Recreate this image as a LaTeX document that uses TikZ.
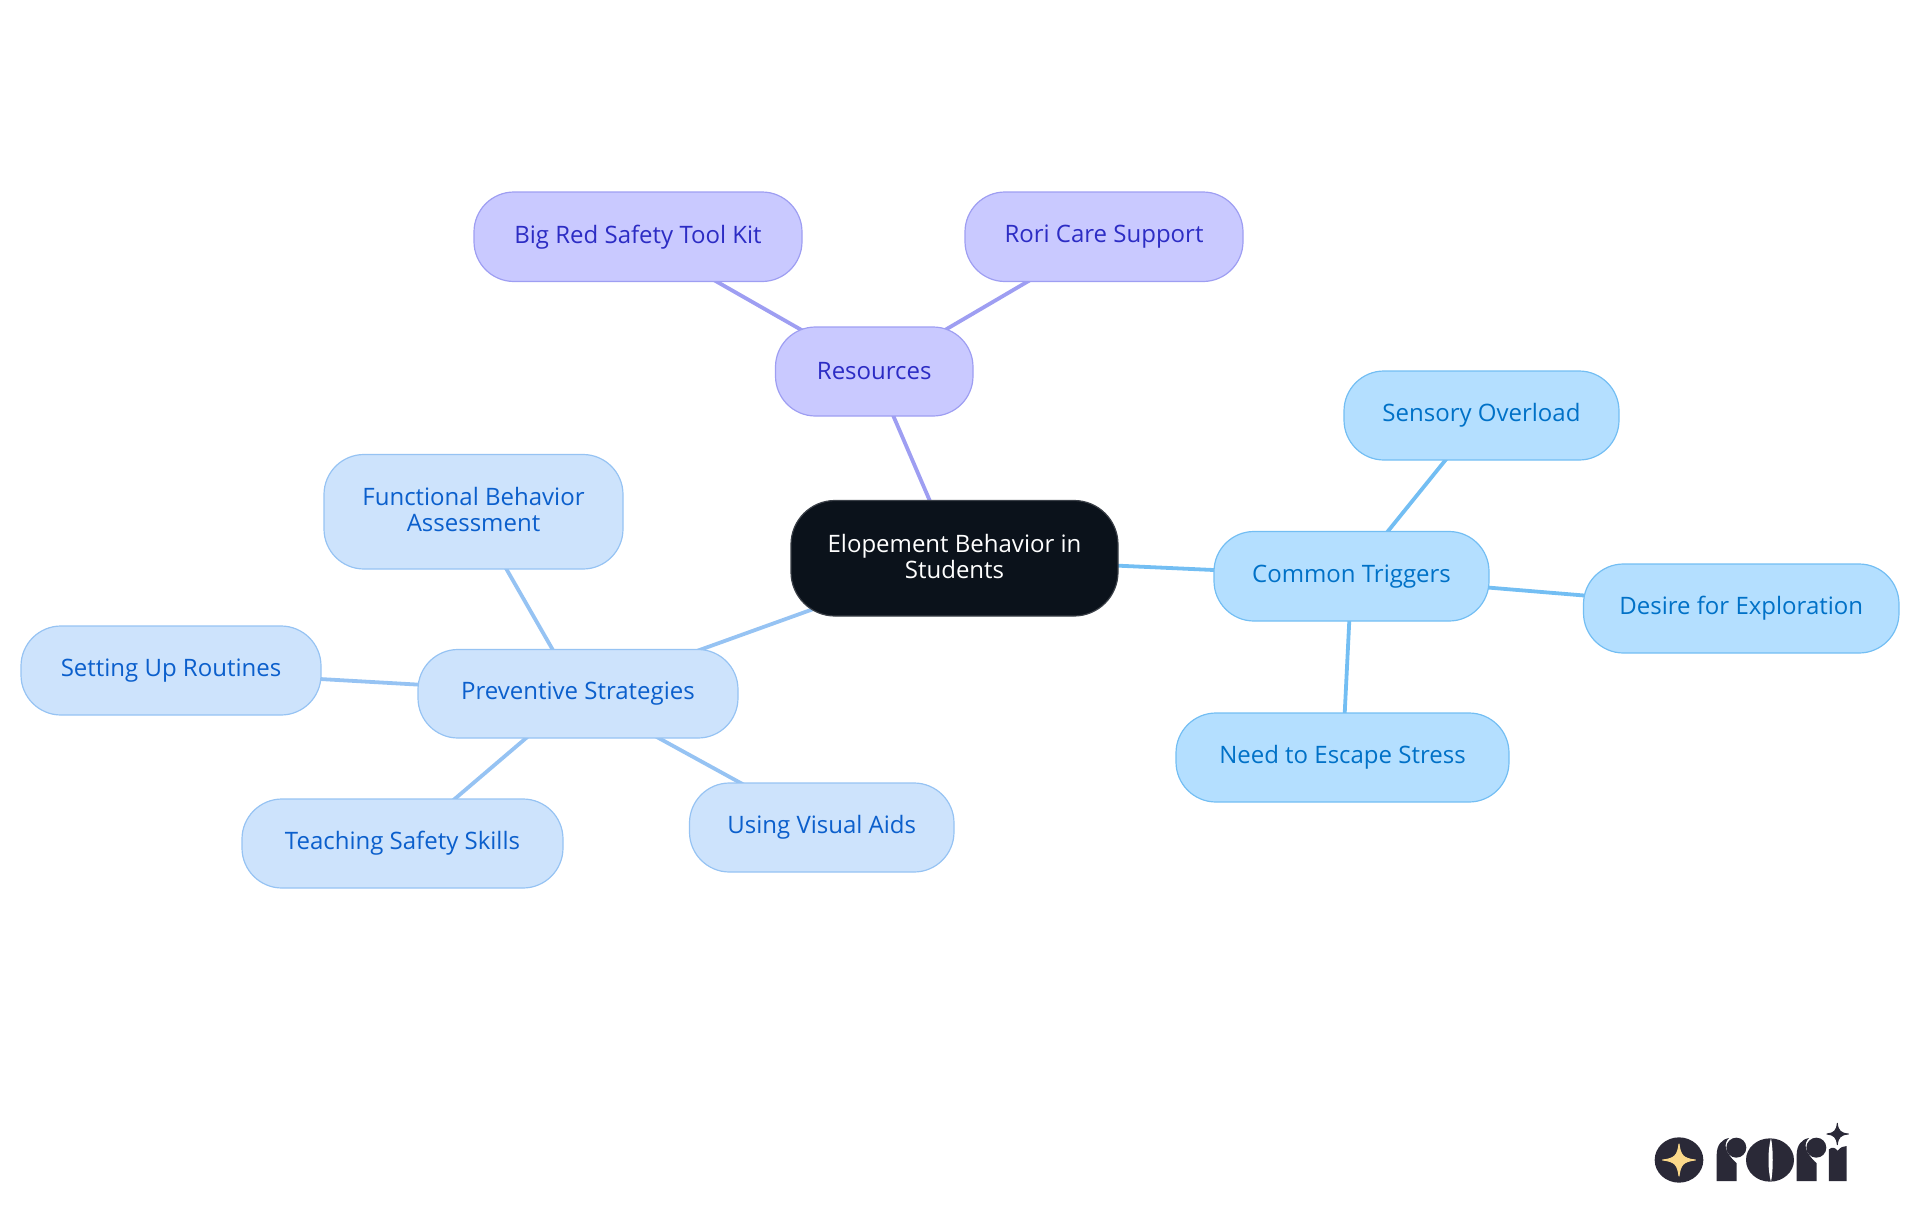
\documentclass[tikz,border=0pt]{standalone}
\usepackage{fontspec}
\setmainfont{Open Sans}
\usetikzlibrary{backgrounds}
\definecolor{rootfill}{HTML}{0B121B}
\definecolor{rootline}{HTML}{3A3F47}
\definecolor{resfill}{HTML}{C9C9FF}
\definecolor{resline}{HTML}{9E9EF2}
\definecolor{restext}{HTML}{2C2CC4}
\definecolor{prefill}{HTML}{CDE3FC}
\definecolor{preline}{HTML}{96C3F3}
\definecolor{pretext}{HTML}{0B5FCC}
\definecolor{trifill}{HTML}{B4DFFF}
\definecolor{triline}{HTML}{73BEF3}
\definecolor{tritext}{HTML}{0071C7}
\definecolor{logodark}{HTML}{2A2937}
\definecolor{logostar}{HTML}{FBD98A}
\tikzset{
  x=1pt,y=-1pt,
  mapbox/.style={rounded corners=40pt,line width=1.2pt,align=center,inner sep=0pt,font=\fontsize{24}{26}\selectfont},
  rootbox/.style={mapbox,rounded corners=44pt,fill=rootfill,draw=rootline,text=white},
  resbox/.style={mapbox,fill=resfill,draw=resline,text=restext},
  prebox/.style={mapbox,fill=prefill,draw=preline,text=pretext},
  tribox/.style={mapbox,fill=trifill,draw=triline,text=tritext},
  resedge/.style={draw=resline,line width=3.8pt},
  preedge/.style={draw=preline,line width=3.8pt},
  triedge/.style={draw=triline,line width=3.8pt},
}
\newcommand{\mapnode}[7]{\node[#1,minimum width=#5pt-#3pt,minimum height=#6pt-#4pt] (#2) at ({(#3+#5)/2},{(#4+#6)/2}) {#7};}
\newcommand{\liftstrut}{\rule[-4pt]{0pt}{4pt}}
\begin{document}
\begin{tikzpicture}
\useasboundingbox (0,0) rectangle (1920,1215);
\mapnode{rootbox}{root}{791}{500.5}{1118}{616}{Elopement Behavior in\\Students\liftstrut}
\mapnode{resbox}{res}{775.5}{327}{973}{416}{Resources}
\mapnode{resbox}{big}{474}{192}{802}{281.5}{Big Red Safety Tool Kit}
\mapnode{resbox}{care}{965}{192}{1243}{281.5}{Rori Care Support}
\mapnode{tribox}{tri}{1214}{531.5}{1489}{621}{Common Triggers}
\mapnode{tribox}{sens}{1344}{371}{1619}{460}{Sensory Overload}
\mapnode{tribox}{desire}{1583.5}{564}{1899}{653}{Desire for Exploration}
\mapnode{tribox}{need}{1176}{713}{1509}{802}{Need to Escape Stress}
\mapnode{prebox}{pre}{418}{649.5}{738}{738}{Preventive Strategies}
\mapnode{prebox}{fba}{324}{454.5}{623}{569}{Functional Behavior\\Assessment\liftstrut}
\mapnode{prebox}{rout}{21}{626}{321}{715}{Setting Up Routines}
\mapnode{prebox}{teach}{242}{799}{563}{888}{Teaching Safety Skills}
\mapnode{prebox}{vis}{689.5}{783}{954}{872}{Using Visual Aids}
\begin{scope}[on background layer]
\draw[resedge] (root.center) -- (res.center);
\draw[resedge] (res.center) -- (big.center);
\draw[resedge] (res.center) -- (care.center);
\draw[triedge] (root.center) -- (tri.center);
\draw[triedge] (tri.center) -- (sens.center);
\draw[triedge] (tri.center) -- (desire.center);
\draw[triedge] (tri.center) -- (need.center);
\draw[preedge] (root.center) -- (pre.center);
\draw[preedge] (pre.center) -- (fba.center);
\draw[preedge] (pre.center) -- (rout.center);
\draw[preedge] (pre.center) -- (teach.center);
\draw[preedge] (pre.center) -- (vis.center);
\end{scope}
% logo, drawn in 3x crop coordinates
\begin{scope}[shift={(1620,1100)},x=0.3333pt,y=-0.3333pt]
\fill[logodark] (177,180) ellipse[x radius=73,y radius=68];
\filldraw[logostar,line width=1pt,line join=round] (177,132) .. controls (181,166) and (190,176) .. (226,180) .. controls (190,184) and (181,194) .. (177,228) .. controls (173,194) and (164,184) .. (128,180) .. controls (164,176) and (173,166) .. (177,132) -- cycle;
\foreach \dx in {0,240}{
\fill[logodark] (290+\dx,243) -- (290+\dx,165) .. controls (290+\dx,135) and (305+\dx,118) .. (327+\dx,114) .. controls (310+\dx,130) and (312+\dx,155) .. (350+\dx,190) -- (350+\dx,243) -- cycle;
\fill[logodark] (349+\dx,143) circle[radius=30];
}
\fill[logodark] (450,180) ellipse[x radius=72,y radius=65];
\fill[white] (453,114) .. controls (443,150) and (443,210) .. (453,246) .. controls (460,210) and (460,150) .. (453,114) -- cycle;
\fill[logodark] (627,243) -- (627,148) .. controls (637,140) and (645,142) .. (653,152) .. controls (661,142) and (670,138) .. (680,138) -- (680,243) -- cycle;
\filldraw[logodark,line width=1pt,line join=round] (652,70) .. controls (654,92) and (662,100) .. (685,102) .. controls (662,104) and (654,112) .. (652,134) .. controls (650,112) and (642,104) .. (621,102) .. controls (642,100) and (650,92) .. (652,70) -- cycle;
\end{scope}
\end{tikzpicture}
\end{document}
